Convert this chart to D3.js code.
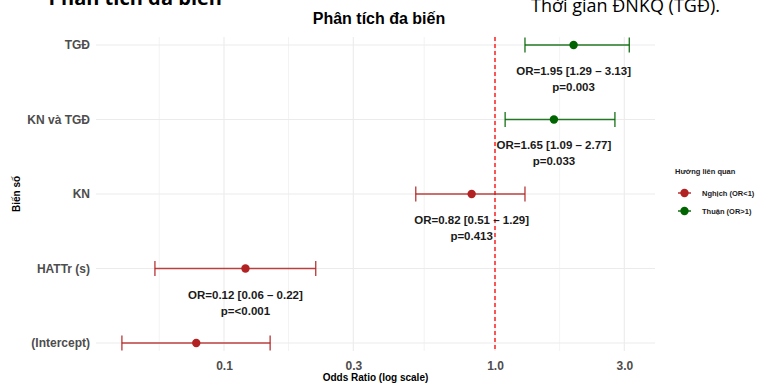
<!DOCTYPE html>
<html>
<head>
<meta charset="utf-8">
<script src="https://cdn.jsdelivr.net/npm/d3@7"></script>
<style>
  body { margin: 0; background: #fff; }
  svg { display: block; font-family: "Liberation Sans", Arial, sans-serif; }
</style>
</head>
<body>
<div id="chart"></div>
<script>
// data
const variables = ["TGĐ", "KN và TGĐ", "KN", "HATTr (s)", "(Intercept)"];
const oddsRatio = [1.95, 1.65, 0.82, 0.12, 0.079];
const ciLow = [1.29, 1.09, 0.51, 0.0556, 0.042];
const ciHigh = [3.13, 2.77, 1.29, 0.218, 0.148];
const pLabels = ["p=0.003", "p=0.033", "p=0.413", "p=<0.001", null];
const xTicks = [0.1, 0.3, 1.0, 3.0];
const xMinor = [0.0577, 0.173, 0.548, 1.732];
const legendLabels = ["Nghịch (OR<1)", "Thuận (OR>1)"];

const width = 758, height = 383;
const margin = { top: 37, right: 103, bottom: 32, left: 96 };
const red = "#b22222", green = "#006400";

const svg = d3.select("#chart").append("svg")
  .attr("width", width)
  .attr("height", height);

// document text cut at the top of the screenshot
svg.append("text")
  .attr("x", 222).attr("y", 5)
  .attr("text-anchor", "end")
  .style("font-family", "'Open Sans', sans-serif")
  .style("font-size", "20px").style("font-weight", "bold")
  .text("Phân tích đa biến");
svg.append("text")
  .attr("x", 720).attr("y", 12)
  .attr("text-anchor", "end")
  .style("font-family", "'Open Sans', sans-serif")
  .style("font-size", "18px")
  .text("Thời gian ĐNKQ (TGĐ).");

// log scale fitted so that 0.1 -> 224 and 1.0 -> 495
const decade = 271;
const x = d3.scaleLog()
  .domain([Math.pow(10, -1 - (224 - margin.left) / decade),
           Math.pow(10, (width - margin.right - 495) / decade)])
  .range([margin.left, width - margin.right]);

const y = d3.scalePoint()
  .domain(variables)
  .range([margin.top, height - margin.bottom])
  .padding(0.107);

const plotW = width - margin.left - margin.right;

// grid
const grid = svg.append("g");
grid.selectAll("line.minor").data(xMinor).join("line")
  .attr("x1", d => x(d)).attr("x2", d => x(d))
  .attr("y1", margin.top).attr("y2", height - margin.bottom)
  .attr("stroke", "#ebebeb").attr("stroke-width", 0.6);
grid.selectAll("line.major").data(xTicks).join("line")
  .attr("x1", d => x(d)).attr("x2", d => x(d))
  .attr("y1", margin.top).attr("y2", height - margin.bottom)
  .attr("stroke", "#ebebeb").attr("stroke-width", 1.1);
grid.selectAll("line.hmajor").data(variables).join("line")
  .attr("x1", margin.left).attr("x2", width - margin.right)
  .attr("y1", d => y(d)).attr("y2", d => y(d))
  .attr("stroke", "#ebebeb").attr("stroke-width", 1.1);

// reference line at OR = 1
svg.append("line")
  .attr("x1", x(1)).attr("x2", x(1))
  .attr("y1", margin.top).attr("y2", height - margin.bottom)
  .attr("stroke", "#ff0000").attr("stroke-width", 1.3)
  .attr("stroke-dasharray", "4,3");

const rows = variables.map((v, i) => ({
  name: v, or: oddsRatio[i], lo: ciLow[i], hi: ciHigh[i], p: pLabels[i]
}));
const colorOf = d => d.or < 1 ? red : green;

// error bars
const bars = svg.append("g").selectAll("g").data(rows).join("g");
bars.append("line")
  .attr("x1", d => x(d.lo)).attr("x2", d => x(d.hi))
  .attr("y1", d => y(d.name)).attr("y2", d => y(d.name))
  .attr("stroke", colorOf).attr("stroke-width", 1.4).attr("stroke-opacity", 0.85);
bars.selectAll("line.cap").data(d => [d.lo, d.hi].map(v => ({ v, d }))).join("line")
  .attr("x1", c => x(c.v)).attr("x2", c => x(c.v))
  .attr("y1", c => y(c.d.name) - 7.5).attr("y2", c => y(c.d.name) + 7.5)
  .attr("stroke", c => colorOf(c.d)).attr("stroke-width", 1.4).attr("stroke-opacity", 0.85);
bars.append("circle")
  .attr("cx", d => x(d.or)).attr("cy", d => y(d.name))
  .attr("r", 4.2)
  .attr("fill", colorOf);

// labels
const lab = svg.append("g").selectAll("text").data(rows.filter(d => d.p)).join("text")
  .attr("text-anchor", "middle")
  .style("font-size", "11.5px").style("font-weight", "bold")
  .attr("fill", "#1a1a1a");
lab.append("tspan")
  .attr("x", d => x(d.or)).attr("y", d => y(d.name) + 30)
  .text(d => `OR=${d.or.toFixed(2)} [${d.lo.toFixed(2)} – ${d.hi.toFixed(2)}]`);
lab.append("tspan")
  .attr("x", d => x(d.or)).attr("y", d => y(d.name) + 46)
  .text(d => d.p);

// axes
const xAxis = svg.append("g")
  .attr("transform", `translate(0,${height - margin.bottom})`)
  .call(d3.axisBottom(x).tickValues(xTicks).tickFormat(d3.format(".1f")).tickSize(0).tickPadding(10));
xAxis.select(".domain").remove();
xAxis.selectAll("text")
  .style("font-size", "12px").style("font-weight", "bold")
  .style("font-family", "'Liberation Sans', Arial, sans-serif")
  .attr("fill", "#4d4d4d");

const yAxis = svg.append("g")
  .attr("transform", `translate(${margin.left},0)`)
  .call(d3.axisLeft(y).tickSize(0).tickPadding(6));
yAxis.select(".domain").remove();
yAxis.selectAll("text")
  .style("font-size", "12px").style("font-weight", "bold")
  .style("font-family", "'Liberation Sans', Arial, sans-serif")
  .attr("fill", "#4d4d4d");

// titles
svg.append("text")
  .attr("x", 379).attr("y", 24)
  .attr("text-anchor", "middle")
  .style("font-size", "16px").style("font-weight", "bold")
  .text("Phân tích đa biến");
svg.append("text")
  .attr("x", margin.left + plotW / 2).attr("y", 381)
  .attr("text-anchor", "middle")
  .style("font-size", "10px").style("font-weight", "bold")
  .text("Odds Ratio (log scale)");
svg.append("text")
  .attr("transform", `translate(20,${(margin.top + height - margin.bottom) / 2}) rotate(-90)`)
  .attr("text-anchor", "middle")
  .style("font-size", "10px").style("font-weight", "bold")
  .text("Biến số");

// legend
const legend = svg.append("g").attr("transform", "translate(675,174)");
legend.append("text")
  .attr("x", 0).attr("y", 0)
  .style("font-size", "7.5px").style("font-weight", "bold").attr("fill", "#1a1a1a")
  .text("Hướng liên quan");
const items = legend.selectAll("g.item").data(legendLabels).join("g")
  .attr("transform", (d, i) => `translate(0,${19 + i * 18})`);
items.append("line")
  .attr("x1", 3).attr("x2", 16)
  .attr("stroke", (d, i) => i === 0 ? red : green).attr("stroke-width", 1.4);
items.append("circle")
  .attr("cx", 9.5).attr("r", 4.2)
  .attr("fill", (d, i) => i === 0 ? red : green);
items.append("text")
  .attr("x", 27).attr("y", 2.5)
  .style("font-size", "7.5px").style("font-weight", "bold").attr("fill", "#1a1a1a")
  .text(d => d);
</script>
</body>
</html>
